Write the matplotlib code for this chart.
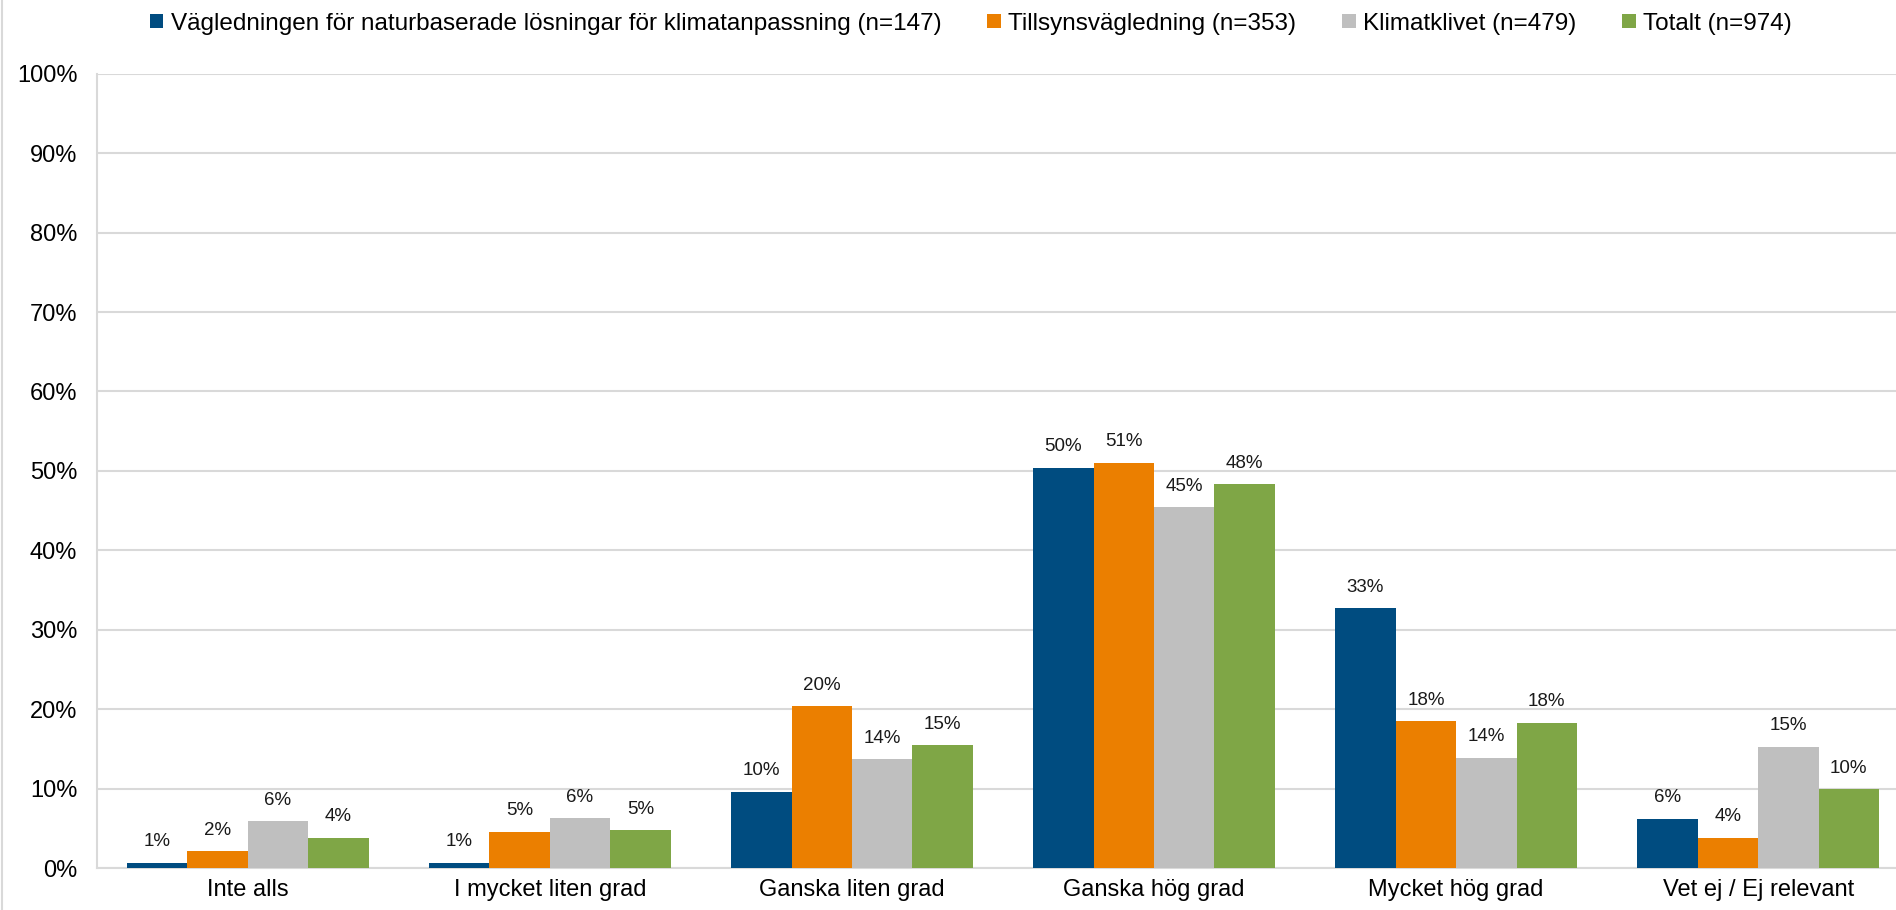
import matplotlib
matplotlib.use("Agg")
import matplotlib.pyplot as plt
import numpy as np

plt.rcParams['font.family'] = ['Liberation Sans', 'DejaVu Sans']

categories = ["Inte alls", "I mycket liten grad", "Ganska liten grad",
              "Ganska hög grad", "Mycket hög grad", "Vet ej / Ej relevant"]
series_names = ["Vägledningen för naturbaserade lösningar för klimatanpassning (n=147)",
                "Tillsynsvägledning (n=353)",
                "Klimatklivet (n=479)",
                "Totalt (n=974)"]
vagledning = [0.7, 0.7, 9.6, 50.4, 32.7, 6.2]
tillsyn = [2.1, 4.6, 20.4, 51.0, 18.5, 3.8]
klimatklivet = [5.9, 6.3, 13.7, 45.4, 13.9, 15.3]
totalt = [3.8, 4.8, 15.5, 48.3, 18.3, 9.9]
labels = [["1%", "1%", "10%", "50%", "33%", "6%"],
          ["2%", "5%", "20%", "51%", "18%", "4%"],
          ["6%", "6%", "14%", "45%", "14%", "15%"],
          ["4%", "5%", "15%", "48%", "18%", "10%"]]
yticks = [0, 10, 20, 30, 40, 50, 60, 70, 80, 90, 100]
ytick_labels = ["0%", "10%", "20%", "30%", "40%", "50%", "60%", "70%", "80%", "90%", "100%"]
colors = ["#004C80", "#EB7F00", "#BFBFBF", "#7FA646"]

data = [vagledning, tillsyn, klimatklivet, totalt]

fig = plt.figure(figsize=(18.96, 9.10), dpi=100)
ax = fig.add_axes([0.051, 0.046, 0.956, 0.873])

x = np.arange(len(categories))
w = 0.2
handles = []
for i, (vals, col) in enumerate(zip(data, colors)):
    pos = x - 0.3 + i * w
    b = ax.bar(pos, vals, width=w, color=col, label=series_names[i], zorder=3)
    handles.append(b)
    for p, v, lab in zip(pos, vals, labels[i]):
        ax.annotate(lab, (p, v), xytext=(0, 9), textcoords="offset points",
                    ha="center", va="bottom", fontsize=13.5, color="#1a1a1a")

ax.set_xlim(-0.5, len(categories) - 0.5)
ax.set_ylim(0, 100)
ax.set_yticks(yticks)
ax.set_yticklabels(ytick_labels, fontsize=17)
ax.set_xticks(x)
ax.set_xticklabels(categories, fontsize=17)
ax.tick_params(axis='both', length=0, pad=8)
ax.tick_params(axis='y', pad=14)
ax.yaxis.grid(True, color="#D9D9D9", linewidth=1.5, zorder=0)
for s in ["top", "right"]:
    ax.spines[s].set_visible(False)
ax.spines["left"].set_color("#D9D9D9")
ax.spines["left"].set_linewidth(1.5)
ax.spines["bottom"].set_color("#D9D9D9")
ax.spines["bottom"].set_linewidth(1.5)

fig.legend(handles=handles, loc="upper center", bbox_to_anchor=(0.512, 1.01),
           ncol=4, frameon=False, fontsize=17.5, handlelength=0.55, handleheight=0.55,
           handletextpad=0.3, columnspacing=1.9)

fig.add_artist(plt.Line2D([0.001, 0.001], [0.0, 1.0], color="#D9D9D9", linewidth=1.5))

fig.savefig("out.png", dpi=100)
